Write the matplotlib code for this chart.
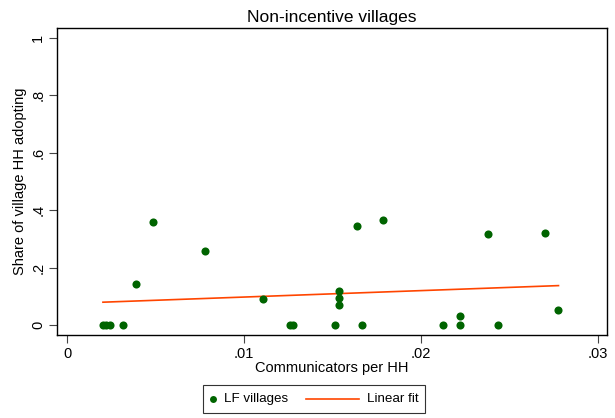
import numpy as np
import matplotlib
matplotlib.use("Agg")
import matplotlib.pyplot as plt
from matplotlib.lines import Line2D
from matplotlib.offsetbox import DrawingArea, TextArea, HPacker, AnchoredOffsetbox

plt.rcParams['font.family'] = ['Liberation Sans', 'DejaVu Sans']

comm_per_hh = [0.00203, 0.00220, 0.00243, 0.00316, 0.0039, 0.00486, 0.0078, 0.01107,
               0.0126, 0.01277, 0.01514, 0.01537, 0.01537, 0.01537, 0.01637, 0.01665,
               0.01784, 0.02126, 0.0222, 0.0222, 0.02379, 0.02437, 0.02701, 0.02776]
share_adopt = [0.0, 0.0, 0.0, 0.0, 0.143, 0.359, 0.258, 0.091,
               0.0, 0.0, 0.0, 0.120, 0.094, 0.070, 0.346, 0.0,
               0.367, 0.0, 0.031, 0.0, 0.317, 0.0, 0.322, 0.052]

x_ticks = [0, 0.01, 0.02, 0.03]
x_ticklabels = ["0", ".01", ".02", ".03"]
y_ticks = [0, 0.2, 0.4, 0.6, 0.8, 1.0]
y_ticklabels = ["0", ".2", ".4", ".6", ".8", "1"]
legend_labels = ["LF villages", "Linear fit"]

GREEN = '#006400'
ORANGE = '#FF4500'

x = np.array(comm_per_hh)
y = np.array(share_adopt)
b, a = np.polyfit(x, y, 1)
xf = np.array([x.min(), x.max()])
yf = a + b * xf

W, H = 615, 418
fig = plt.figure(figsize=(W / 100, H / 100), dpi=100)
L, R, T, B = 57, 607, 28, 335
ax = fig.add_axes([L / W, (H - B) / H, (R - L) / W, (B - T) / H])
ax.scatter(x, y, s=34, color=GREEN, zorder=3, linewidths=0)
ax.plot(xf, yf, color=ORANGE, lw=1.2, zorder=2)

ax.set_xlim(-0.000565, 0.0305)
ax.set_ylim(-0.0348, 1.0348)
ax.set_xticks(x_ticks)
ax.set_xticklabels(x_ticklabels, fontsize=10.5)
ax.set_yticks(y_ticks)
ax.set_yticklabels(y_ticklabels, fontsize=10.5, rotation=90, va='center')
ax.tick_params(length=5.5, width=0.8, color='#444444', pad=3)
for s in ax.spines.values():
    s.set_linewidth(1.0)
ax.set_title("Non-incentive villages", fontsize=12.5, pad=4)
ax.set_xlabel("Communicators per HH", fontsize=10.5, labelpad=0)
ax.set_ylabel("Share of village HH adopting", fontsize=10.5, labelpad=3)

# Legend (Stata-style: marker hugging its label, longer line key)
fs = 9.6
da1 = DrawingArea(10.4, 10, 0, 0)
da1.add_artist(Line2D([2.5], [5], marker='o', ms=5.0, color=GREEN, mew=0, ls='none'))
ta1 = TextArea(legend_labels[0], textprops=dict(size=fs))
da2 = DrawingArea(56.8, 10, 0, 0)
da2.add_artist(Line2D([13, 51], [5, 5], color=ORANGE, lw=1.2))
ta2 = TextArea(legend_labels[1], textprops=dict(size=fs))
pack = HPacker(children=[da1, ta1, da2, ta2], sep=0, pad=0, align='center')
anch = AnchoredOffsetbox(loc='center', child=pack, pad=0.5, borderpad=0, frameon=True,
                         bbox_to_anchor=(0.5106, 0.0455), bbox_transform=fig.transFigure,
                         prop=dict(size=fs))
anch.patch.set_boxstyle('square', pad=0)
anch.patch.set_edgecolor('#333333')
anch.patch.set_linewidth(0.8)
fig.add_artist(anch)

fig.savefig("out.png", dpi=100)
